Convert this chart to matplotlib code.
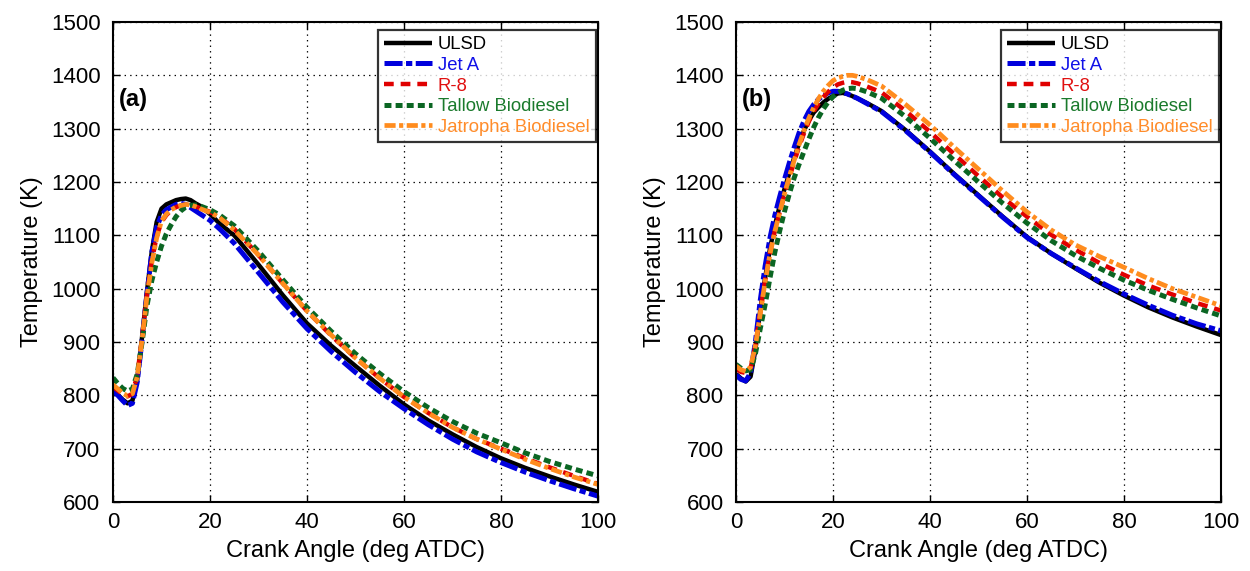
import matplotlib
matplotlib.use("Agg")
import matplotlib.pyplot as plt

plt.rcParams['font.family'] = ['Liberation Sans', 'DejaVu Sans']
plt.rcParams['lines.scale_dashes'] = False

# ---- data: panel (a) ----
angle_a = [0, 1, 2, 3, 4, 5, 6, 7, 8, 9, 10, 11, 12, 13, 14, 15, 16, 17, 18, 20, 22, 25,
           30, 35, 40, 45, 50, 55, 60, 65, 70, 75, 80, 85, 90, 95, 100]
ulsd_a = [810, 801, 792, 785, 790, 830, 910, 995, 1070, 1125, 1150, 1158, 1162, 1166, 1168, 1169,
          1166, 1160, 1155, 1140, 1122, 1100, 1045, 988, 935, 893, 855, 818, 783, 753, 727, 703,
          682, 664, 648, 633, 619]
jeta_a = [808, 800, 790, 781, 785, 825, 905, 990, 1068, 1115, 1138, 1148, 1153, 1158, 1160, 1158,
          1152, 1146, 1140, 1128, 1112, 1085, 1030, 975, 925, 882, 843, 807, 775, 745, 718, 694,
          674, 656, 640, 625, 611]
r8_a = [816, 809, 802, 798, 803, 838, 908, 988, 1052, 1098, 1125, 1138, 1147, 1153, 1156, 1157,
        1156, 1154, 1151, 1144, 1134, 1112, 1063, 1010, 958, 912, 870, 832, 797, 767, 740, 718,
        700, 682, 665, 649, 634]
tallow_a = [833, 822, 813, 808, 812, 840, 900, 968, 1015, 1050, 1080, 1103, 1120, 1135, 1146, 1153,
            1156, 1157, 1155, 1148, 1138, 1118, 1070, 1017, 965, 920, 878, 841, 807, 777, 751, 729,
            711, 692, 676, 662, 649]
jatropha_a = [820, 812, 804, 799, 803, 835, 905, 985, 1048, 1095, 1127, 1140, 1148, 1153, 1156, 1158,
              1157, 1154, 1150, 1143, 1133, 1110, 1063, 1010, 958, 913, 870, 832, 797, 767, 740, 718,
              699, 680, 663, 647, 633]

# ---- data: panel (b) ----
angle_b = [0, 1, 2, 3, 4, 5, 6, 7, 8, 9, 10, 11, 12, 13, 14, 15, 16, 17, 18, 19, 20, 21, 22, 23,
           24, 25, 27, 30, 35, 40, 45, 50, 55, 60, 65, 70, 75, 80, 85, 90, 95, 100]
ulsd_b = [840, 832, 826, 835, 885, 960, 1020, 1075, 1118, 1155, 1187, 1217, 1246, 1272, 1296, 1315,
          1330, 1340, 1349, 1356, 1361, 1366, 1367, 1365, 1361, 1357, 1348, 1333, 1297, 1257, 1215,
          1175, 1135, 1097, 1066, 1038, 1011, 987, 965, 946, 929, 913]
jeta_b = [838, 830, 827, 842, 900, 978, 1042, 1095, 1137, 1172, 1205, 1236, 1265, 1292, 1314, 1332,
          1345, 1355, 1362, 1367, 1370, 1370, 1368, 1365, 1361, 1357, 1347, 1332, 1296, 1256, 1214,
          1174, 1134, 1096, 1066, 1039, 1013, 990, 969, 950, 934, 921]
r8_b = [850, 844, 842, 850, 893, 955, 1015, 1067, 1108, 1143, 1176, 1208, 1238, 1266, 1291, 1313,
        1332, 1347, 1359, 1369, 1377, 1383, 1386, 1388, 1387, 1385, 1379, 1368, 1333, 1294, 1252,
        1211, 1171, 1135, 1101, 1073, 1048, 1026, 1006, 989, 973, 959]
tallow_b = [858, 851, 846, 848, 878, 925, 970, 1020, 1068, 1108, 1145, 1178, 1208, 1233, 1257, 1280,
            1302, 1321, 1337, 1350, 1360, 1367, 1372, 1375, 1376, 1375, 1369, 1357, 1322, 1282, 1240,
            1200, 1160, 1123, 1090, 1062, 1038, 1016, 997, 980, 964, 949]
jatropha_b = [855, 848, 845, 853, 893, 953, 1013, 1065, 1107, 1143, 1178, 1210, 1241, 1270, 1296, 1319,
              1339, 1356, 1370, 1381, 1390, 1395, 1398, 1400, 1400, 1398, 1392, 1380, 1345, 1307, 1265,
              1224, 1183, 1144, 1110, 1082, 1060, 1040, 1019, 1000, 984, 968]

labels = ['ULSD', 'Jet A', 'R-8', 'Tallow Biodiesel', 'Jatropha Biodiesel']
colors = ['#000000', '#0000DD', '#E00000', '#0B6623', '#FF8C1E']
text_colors = ['#000000', '#1010E8', '#E01010', '#1A7A2C', '#FF8C2A']
dashes = [None, (13, 2.5, 4.5, 2.5), (7, 5), (5, 3), (8, 2.5, 3, 2.5)]
widths = [3.2, 3.6, 3.2, 3.6, 3.4]

x_ticks = [0, 20, 40, 60, 80, 100]
y_ticks = [600, 700, 800, 900, 1000, 1100, 1200, 1300, 1400, 1500]

fig = plt.figure(figsize=(12.5, 5.71), dpi=100)
ax_a = fig.add_axes([0.0904, 0.1208, 0.388, 0.8407])
ax_b = fig.add_axes([0.5888, 0.1208, 0.388, 0.8407])

panels = [
    (ax_a, angle_a, [ulsd_a, jeta_a, r8_a, tallow_a, jatropha_a], '(a)'),
    (ax_b, angle_b, [ulsd_b, jeta_b, r8_b, tallow_b, jatropha_b], '(b)'),
]

for ax, ang, series, tag in panels:
    handles = []
    for vals, lab, col, dsh, lw in zip(series, labels, colors, dashes, widths):
        line, = ax.plot(ang, vals, color=col, lw=lw, label=lab, solid_capstyle='butt')
        if dsh is not None:
            line.set_dashes(dsh)
            line.set_dash_capstyle('butt')
        handles.append(line)
    ax.set_xlim(0, 100)
    ax.set_ylim(600, 1500)
    ax.set_xticks(x_ticks)
    ax.set_yticks(y_ticks)
    ax.tick_params(direction='in', length=5, width=1, top=True, right=True, labelsize=16)
    ax.tick_params(axis='y', pad=9)
    ax.tick_params(axis='x', pad=7)
    ax.grid(True, color='black', linestyle=(0, (1, 3)), linewidth=0.9)
    for s in ax.spines.values():
        s.set_linewidth(1.5)
    ax.set_xlabel('Crank Angle (deg ATDC)', fontsize=17, labelpad=5)
    ax.set_ylabel('Temperature (K)', fontsize=17, labelpad=6)
    ax.text(0.012, 0.838, tag, transform=ax.transAxes, fontsize=17,
            fontweight='bold', va='center', ha='left')
    leg = ax.legend(handles=handles, loc='upper right', bbox_to_anchor=(0.996, 0.984),
                    borderaxespad=0, fontsize=13.3, frameon=True, fancybox=False,
                    handlelength=2.6, handletextpad=0.3, labelspacing=0.2,
                    borderpad=0.35)
    leg.get_frame().set_edgecolor('black')
    leg.get_frame().set_linewidth(1.6)
    for txt, tc in zip(leg.get_texts(), text_colors):
        txt.set_color(tc)

fig.savefig('out.png', dpi=100)
